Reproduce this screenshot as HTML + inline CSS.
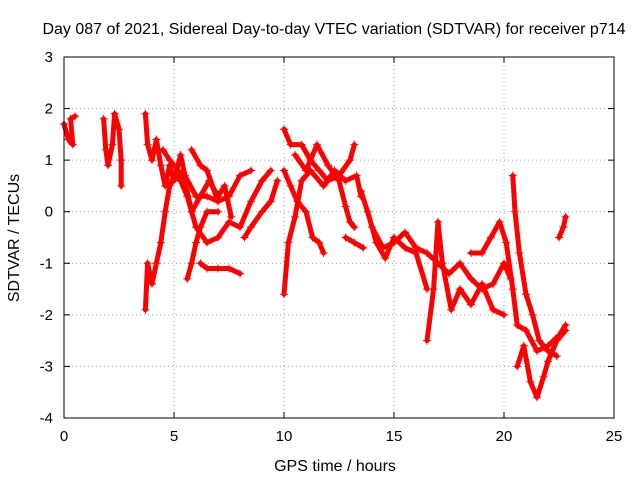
<!DOCTYPE html>
<html><head><meta charset="utf-8"><style>
body{margin:0;background:#fff}
svg{display:block;font-family:"Liberation Sans",sans-serif}
</style></head><body>
<svg id="chart" width="640" height="480">
<text x="334" y="34" font-size="16" text-anchor="middle">Day 087 of 2021, Sidereal Day-to-day VTEC variation (SDTVAR) for receiver p714</text>
<g id="grid"></g>
<g id="ticks"></g>
<g id="series"></g>
<rect x="64" y="57" width="550" height="361" fill="none" stroke="#000" stroke-width="1"/>
<text x="335" y="471" font-size="16" text-anchor="middle">GPS time / hours</text>
<text transform="translate(19,238) rotate(-90)" font-size="16" text-anchor="middle">SDTVAR / TECUs</text>
</svg>
<script>
const xTicks=[0,5,10,15,20,25];
const yTicks=[3,2,1,0,-1,-2,-3,-4];
const tracks=[
[[0,1.7],[0.2,1.4],[0.4,1.3],[0.3,1.8],[0.5,1.85]],
[[1.8,1.8],[1.9,1.2],[2.0,0.9],[2.2,1.3],[2.3,1.9],[2.5,1.6],[2.6,1.0],[2.6,0.5]],
[[3.7,1.9],[3.8,1.3],[4.0,1.0],[4.2,1.4],[4.4,0.9],[4.6,0.5],[4.8,0.9],[5.0,0.6],[5.3,1.1],[5.5,0.7],[6.0,0.3],[6.5,0.3],[7.0,0.2],[7.5,0.3],[8.0,0.7],[8.5,0.8]],
[[3.7,-1.9],[3.8,-1.0],[4.0,-1.4],[4.2,-1.0],[4.4,-0.6],[4.6,0.0],[4.8,0.5],[5.0,0.7],[5.3,0.6],[5.6,0.3],[5.8,0.0],[6.0,-0.3],[6.5,-0.6],[7.0,-0.5],[7.5,-0.2],[8,-0.3],[8.5,0.2],[9,0.6],[9.4,0.8]],
[[5.6,-1.3],[5.8,-1.0],[6.0,-0.6],[6.2,-0.3],[6.5,0.0],[7.0,0.0]],
[[6.2,-1.0],[6.5,-1.1],[7,-1.1],[7.5,-1.1],[8,-1.2]],
[[4.5,1.2],[4.8,1.0],[5.2,0.8],[5.6,0.4],[5.8,0],[6.2,0.3],[6.6,0.6],[7,0.3],[7.3,0.5],[7.6,-0.1]],
[[5.8,1.2],[6.2,0.9],[6.5,0.8],[7.0,0.2]],
[[8.2,-0.5],[8.5,-0.3],[9,0],[9.4,0.2],[9.7,0.6]],
[[10,1.6],[10.3,1.3],[10.8,1.3],[11.2,1.0],[11.6,0.8],[12,0.6],[12.5,0.7],[13,1.0],[13.2,1.3]],
[[10,-1.6],[10.2,-0.6],[10.5,-0.1],[10.8,0.6],[11.2,0.8],[11.8,0.5],[12.3,0.8],[12.8,0.6],[13.3,0.7],[13.5,0.3]],
[[10,0.8],[10.3,0.5],[10.6,0.2],[11,0],[11.3,-0.5],[11.6,-0.6],[11.8,-0.8]],
[[10.5,1.1],[11,0.8],[11.5,1.3],[12,0.9],[12.5,0.6],[12.8,0.1],[13,-0.2],[13.2,-0.3]],
[[12.8,-0.5],[13.2,-0.6],[13.6,-0.7]],
[[13.5,0.4],[13.8,0],[14.2,-0.6],[14.6,-0.9],[15,-0.5],[15.5,-0.7],[16,-0.8],[16.5,-1.5]],
[[14,-0.3],[14.5,-0.7],[15,-0.6],[15.5,-0.4],[16,-0.7],[16.5,-0.8],[17,-1.0],[17.5,-1.2],[18,-1.0],[18.5,-1.3],[19,-1.5],[19.5,-1.4],[20,-1.0],[20.3,-1.3]],
[[16.5,-2.5],[16.8,-1.5],[17,-0.2],[17.2,-1.0],[17.6,-1.9],[18,-1.5],[18.5,-1.8],[19,-1.4],[19.5,-1.9],[20,-2.0]],
[[18.5,-0.8],[19,-0.8],[19.4,-0.5],[19.8,-0.2],[20.1,-0.6],[20.4,-1.5],[20.6,-2.2],[21,-2.3],[21.5,-2.7],[22,-2.6],[22.5,-2.4],[22.8,-2.2]],
[[20.4,0.7],[20.5,0],[20.7,-0.8],[21,-1.6],[21.3,-2.0],[21.6,-2.5],[22,-2.7],[22.4,-2.8]],
[[20.6,-3.0],[20.9,-2.6],[21.2,-3.3],[21.5,-3.6],[21.8,-3.2],[22.0,-2.9],[22.4,-2.5],[22.8,-2.3]],
[[22.5,-0.5],[22.7,-0.3],[22.8,-0.1]]
];
const NS="http://www.w3.org/2000/svg";
const X0=64,X1=614,Y0=418,Y1=57;
const sx=v=>X0+(v-0)/(25-0)*(X1-X0);
const sy=v=>Y0-(v+4)/(3+4)*(Y0-Y1);
const grid=document.getElementById('grid'),ticks=document.getElementById('ticks'),series=document.getElementById('series');
function mk(tag,attrs,parent){const e=document.createElementNS(NS,tag);for(const k in attrs)e.setAttribute(k,attrs[k]);parent.appendChild(e);return e;}
xTicks.forEach(t=>{
  const x=sx(t);
  if(t>0&&t<25){const g=mk('line',{x1:x,x2:x,y1:Y1,y2:Y0,stroke:'#a0a0a0','stroke-dasharray':'1,3'},grid);
  
  }
  mk('line',{x1:x,x2:x,y1:Y0,y2:Y0-6,stroke:'#000'},ticks);
  mk('line',{x1:x,x2:x,y1:Y1,y2:Y1+6,stroke:'#000'},ticks);
  const tx=mk('text',{x:x,y:Y0+23,'font-size':15,'text-anchor':'middle'},ticks);
  tx.textContent=t;
  
  
});
yTicks.forEach(t=>{
  const y=sy(t);
  if(t>-4&&t<3){const g=mk('line',{x1:X0,x2:X1,y1:y,y2:y,stroke:'#a0a0a0','stroke-dasharray':'1,3'},grid);
  
  }
  mk('line',{x1:X0,x2:X0+6,y1:y,y2:y,stroke:'#000'},ticks);
  mk('line',{x1:X1,x2:X1-6,y1:y,y2:y,stroke:'#000'},ticks);
  const tx=mk('text',{x:X0-11,y:y+5,'font-size':15,'text-anchor':'end'},ticks);
  tx.textContent=t;
  
  
});
tracks.forEach((tr,i)=>{
  const pl=mk('polyline',{points:tr.map(p=>sx(p[0])+','+sy(p[1])).join(' '),fill:'none',stroke:'#f00','stroke-width':5,'stroke-linejoin':'round','stroke-linecap':'round'},series);
  
  
  tr.forEach(p=>{
    const x=sx(p[0]),y=sy(p[1]);
    const m=mk('path',{d:`M${x-4},${y}H${x+4}M${x},${y-4}V${y+4}`,stroke:'#f00','stroke-width':1},series);
    
    
  });
});
</script>
</body></html>
